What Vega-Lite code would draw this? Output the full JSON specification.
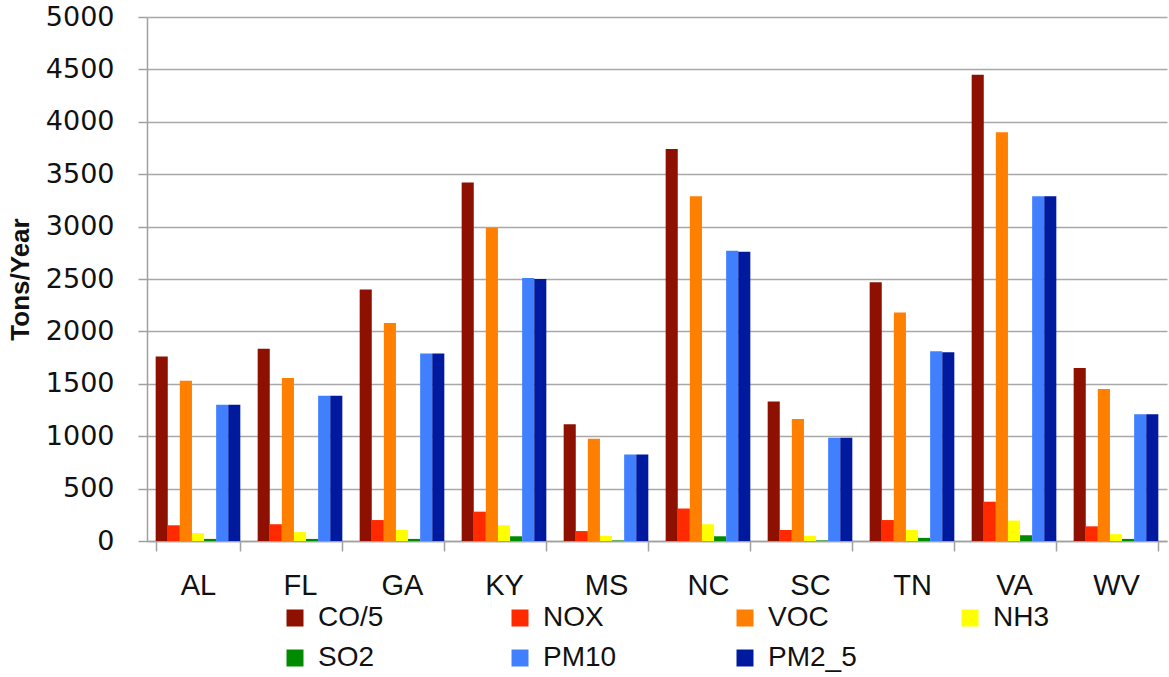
{
  "$schema": "https://vega.github.io/schema/vega-lite/v6.json",
  "width": 1020,
  "height": 524,
  "autosize": "none",
  "padding": {"left": 147, "top": 17, "right": 2, "bottom": 136},
  "background": "white",
  "config": {"view": {"stroke": null}},
  "data": {"values": [
    {"state": "AL", "pollutant": "CO/5", "value": 1760},
    {"state": "AL", "pollutant": "NOX", "value": 150},
    {"state": "AL", "pollutant": "VOC", "value": 1530},
    {"state": "AL", "pollutant": "NH3", "value": 75},
    {"state": "AL", "pollutant": "SO2", "value": 20},
    {"state": "AL", "pollutant": "PM10", "value": 1300},
    {"state": "AL", "pollutant": "PM2_5", "value": 1300},
    {"state": "FL", "pollutant": "CO/5", "value": 1835},
    {"state": "FL", "pollutant": "NOX", "value": 160},
    {"state": "FL", "pollutant": "VOC", "value": 1555},
    {"state": "FL", "pollutant": "NH3", "value": 85},
    {"state": "FL", "pollutant": "SO2", "value": 20},
    {"state": "FL", "pollutant": "PM10", "value": 1385},
    {"state": "FL", "pollutant": "PM2_5", "value": 1385},
    {"state": "GA", "pollutant": "CO/5", "value": 2400},
    {"state": "GA", "pollutant": "NOX", "value": 200},
    {"state": "GA", "pollutant": "VOC", "value": 2080},
    {"state": "GA", "pollutant": "NH3", "value": 105},
    {"state": "GA", "pollutant": "SO2", "value": 20},
    {"state": "GA", "pollutant": "PM10", "value": 1790},
    {"state": "GA", "pollutant": "PM2_5", "value": 1790},
    {"state": "KY", "pollutant": "CO/5", "value": 3420},
    {"state": "KY", "pollutant": "NOX", "value": 280},
    {"state": "KY", "pollutant": "VOC", "value": 2990},
    {"state": "KY", "pollutant": "NH3", "value": 150},
    {"state": "KY", "pollutant": "SO2", "value": 45},
    {"state": "KY", "pollutant": "PM10", "value": 2510},
    {"state": "KY", "pollutant": "PM2_5", "value": 2500},
    {"state": "MS", "pollutant": "CO/5", "value": 1115},
    {"state": "MS", "pollutant": "NOX", "value": 95},
    {"state": "MS", "pollutant": "VOC", "value": 975},
    {"state": "MS", "pollutant": "NH3", "value": 50},
    {"state": "MS", "pollutant": "SO2", "value": 5},
    {"state": "MS", "pollutant": "PM10", "value": 825},
    {"state": "MS", "pollutant": "PM2_5", "value": 825},
    {"state": "NC", "pollutant": "CO/5", "value": 3740},
    {"state": "NC", "pollutant": "NOX", "value": 310},
    {"state": "NC", "pollutant": "VOC", "value": 3290},
    {"state": "NC", "pollutant": "NH3", "value": 160},
    {"state": "NC", "pollutant": "SO2", "value": 45},
    {"state": "NC", "pollutant": "PM10", "value": 2770},
    {"state": "NC", "pollutant": "PM2_5", "value": 2760},
    {"state": "SC", "pollutant": "CO/5", "value": 1330},
    {"state": "SC", "pollutant": "NOX", "value": 105},
    {"state": "SC", "pollutant": "VOC", "value": 1165},
    {"state": "SC", "pollutant": "NH3", "value": 50},
    {"state": "SC", "pollutant": "SO2", "value": 5},
    {"state": "SC", "pollutant": "PM10", "value": 985},
    {"state": "SC", "pollutant": "PM2_5", "value": 985},
    {"state": "TN", "pollutant": "CO/5", "value": 2470},
    {"state": "TN", "pollutant": "NOX", "value": 200},
    {"state": "TN", "pollutant": "VOC", "value": 2180},
    {"state": "TN", "pollutant": "NH3", "value": 105},
    {"state": "TN", "pollutant": "SO2", "value": 30},
    {"state": "TN", "pollutant": "PM10", "value": 1810},
    {"state": "TN", "pollutant": "PM2_5", "value": 1800},
    {"state": "VA", "pollutant": "CO/5", "value": 4450},
    {"state": "VA", "pollutant": "NOX", "value": 375},
    {"state": "VA", "pollutant": "VOC", "value": 3900},
    {"state": "VA", "pollutant": "NH3", "value": 195},
    {"state": "VA", "pollutant": "SO2", "value": 55},
    {"state": "VA", "pollutant": "PM10", "value": 3290},
    {"state": "VA", "pollutant": "PM2_5", "value": 3290},
    {"state": "WV", "pollutant": "CO/5", "value": 1650},
    {"state": "WV", "pollutant": "NOX", "value": 140},
    {"state": "WV", "pollutant": "VOC", "value": 1450},
    {"state": "WV", "pollutant": "NH3", "value": 65},
    {"state": "WV", "pollutant": "SO2", "value": 20},
    {"state": "WV", "pollutant": "PM10", "value": 1210},
    {"state": "WV", "pollutant": "PM2_5", "value": 1210}
  ]},
  "mark": {"type": "bar"},
  "encoding": {
    "x": {
      "field": "state", "type": "nominal", "sort": null,
      "scale": {"paddingInner": 0.17, "paddingOuter": 0.085},
      "axis": {
        "title": null, "labelAngle": 0, "tickBand": "extent",
        "domainColor": "#A0A0A0", "domainWidth": 1.5,
        "tickColor": "#A0A0A0", "tickWidth": 1.5, "tickSize": 10,
        "labelFont": "Liberation Sans", "labelFontSize": 29, "labelColor": "#111111",
        "labelPadding": 20, "grid": false
      }
    },
    "xOffset": {
      "field": "pollutant", "type": "nominal",
      "sort": ["CO/5", "NOX", "VOC", "NH3", "SO2", "PM10", "PM2_5"],
      "scale": {"paddingInner": 0, "paddingOuter": 0}
    },
    "y": {
      "field": "value", "type": "quantitative",
      "scale": {"domain": [0, 5000], "nice": false},
      "axis": {
        "title": "Tons/Year", "titleFont": "Liberation Sans", "titleFontSize": 26,
        "titleFontWeight": "bold", "titleColor": "#111111", "titlePadding": 12,
        "values": [0, 500, 1000, 1500, 2000, 2500, 3000, 3500, 4000, 4500, 5000],
        "format": "d",
        "labelFont": "DejaVu Sans", "labelFontSize": 27, "labelColor": "#111111",
        "labelPadding": 24,
        "domainColor": "#A0A0A0", "domainWidth": 1.5,
        "tickColor": "#A0A0A0", "tickWidth": 1.5, "tickSize": 9,
        "gridColor": "#A8A8A8", "gridWidth": 1.5
      }
    },
    "color": {
      "field": "pollutant", "type": "nominal",
      "sort": ["CO/5", "NOX", "VOC", "NH3", "SO2", "PM10", "PM2_5"],
      "scale": {
        "domain": ["CO/5", "NOX", "VOC", "NH3", "SO2", "PM10", "PM2_5"],
        "range": ["#8E1000", "#FF2A00", "#FF7F00", "#FFFF00", "#008A00", "#4080FF", "#001A9F"]
      },
      "legend": {
        "title": null, "orient": "none", "legendX": 134, "legendY": 587,
        "direction": "horizontal", "columns": 4, "gridAlign": "all",
        "columnPadding": 99, "rowPadding": 12,
        "symbolType": "square", "symbolSize": 289, "symbolStrokeWidth": 0,
        "labelFont": "Liberation Sans", "labelFontSize": 28, "labelColor": "#111111",
        "labelOffset": 9, "labelLimit": 300
      }
    }
  }
}
